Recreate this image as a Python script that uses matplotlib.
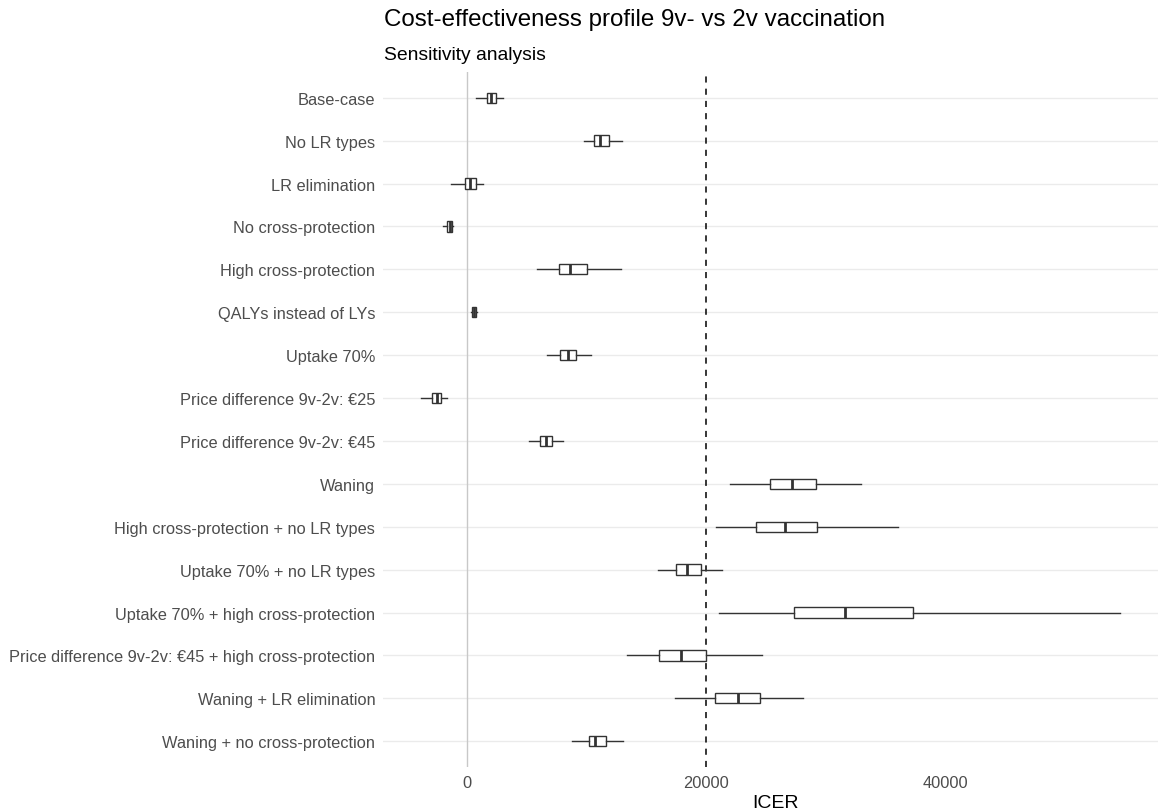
import matplotlib.pyplot as plt

plt.rcParams['font.family'] = ['Liberation Sans', 'DejaVu Sans']

# scenarios, top to bottom
scenarios = [
    'Base-case',
    'No LR types',
    'LR elimination',
    'No cross-protection',
    'High cross-protection',
    'QALYs instead of LYs',
    'Uptake 70%',
    'Price difference 9v-2v: €25',
    'Price difference 9v-2v: €45',
    'Waning',
    'High cross-protection + no LR types',
    'Uptake 70% + no LR types',
    'Uptake 70% + high cross-protection',
    'Price difference 9v-2v: €45 + high cross-protection',
    'Waning + LR elimination',
    'Waning + no cross-protection',
]

# ICER summaries
icer_min = [730, 9790, -1310, -1980, 5880, 310, 6670, -3880, 5190, 22010, 20840, 15960, 21060, 13390, 17410, 8790]
icer_q1 = [1650, 10650, -170, -1670, 7670, 420, 7780, -2960, 6140, 25380, 24210, 17490, 27360, 16070, 20750, 10230]
icer_med = [2010, 11160, 250, -1460, 8590, 590, 8430, -2540, 6580, 27200, 26640, 18410, 31660, 17930, 22650, 10740]
icer_q3 = [2430, 11860, 780, -1260, 10040, 780, 9120, -2180, 7110, 29200, 29310, 19560, 37320, 20000, 24490, 11610]
icer_max = [3010, 12970, 1340, -1200, 12860, 860, 10380, -1700, 8030, 32920, 36070, 21340, 54590, 24710, 28120, 13080]

threshold = 20000

stats = []
for i in range(len(scenarios)):
    stats.append(dict(whislo=icer_min[i], q1=icer_q1[i], med=icer_med[i],
                      q3=icer_q3[i], whishi=icer_max[i], fliers=[]))

fig = plt.figure(figsize=(11.64, 8.12), dpi=100)
ax = fig.add_axes([0.329, 0.0542, 0.6658, 0.8559])

pos = list(range(len(scenarios)))
for y in pos:
    ax.axhline(y, color='#EBEBEB', lw=1.0, zorder=0)
ax.axvline(0, color='#C8C8C8', lw=1.0, zorder=1)
ax.axvline(threshold, color='black', lw=1.1, ls=(0, (4, 4)), zorder=1)

line = dict(color='#333333', lw=1.0)
ax.bxp(stats, positions=pos, widths=0.24, orientation='horizontal',
       showcaps=False, showfliers=False, patch_artist=True,
       boxprops=dict(facecolor='white', edgecolor='#333333', lw=1.0),
       whiskerprops=line, medianprops=dict(color='#333333', lw=2.0),
       manage_ticks=False, zorder=3)

ax.set_ylim(len(scenarios) - 0.4, -0.6)
ax.set_xlim(-7030, 57800)
ax.set_yticks(pos)
ax.set_yticklabels(scenarios)
ax.set_xticks([0, 20000, 40000])
ax.set_xticklabels(['0', '20000', '40000'])
ax.tick_params(axis='both', length=0, labelcolor='#4D4D4D')
ax.tick_params(axis='y', pad=5.5, labelsize=11.75)
ax.tick_params(axis='x', pad=6, labelsize=11.8)
for s in ax.spines.values():
    s.set_visible(False)

fig.text(0.33, 0.975, 'Cost-effectiveness profile 9v- vs 2v vaccination',
         fontsize=17.4, va='center', ha='left')
fig.text(0.33, 0.932, 'Sensitivity analysis', fontsize=13.9, va='center', ha='left')
fig.text(0.6665, 0.011, 'ICER', fontsize=14, va='center', ha='center')

fig.savefig('out.png', dpi=100)
